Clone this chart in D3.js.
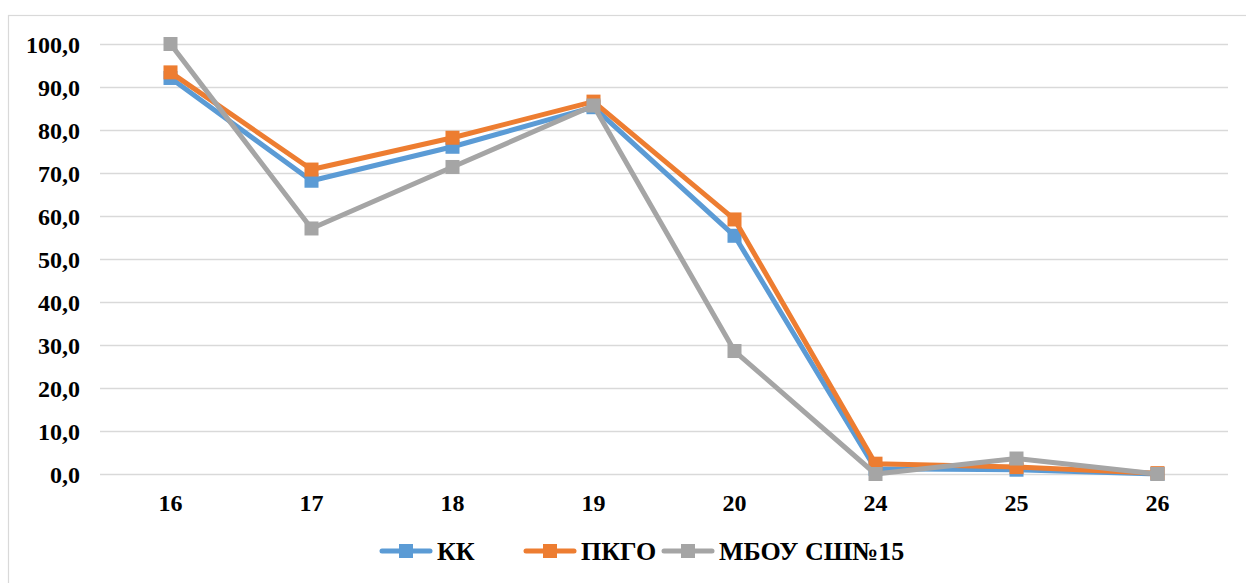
<!DOCTYPE html>
<html><head><meta charset="utf-8">
<script src="https://cdn.jsdelivr.net/npm/d3@7"></script>
<style>body{margin:0;background:#fff;}svg{display:block;}
svg text{font-family:"Liberation Serif","Times New Roman",serif !important;font-weight:bold;fill:#000;}
</style>
</head><body>
<svg id="c" width="1246" height="583"></svg>
<script>
const categories = ["16","17","18","19","20","24","25","26"];
const seriesNames = ["КК","ПКГО","МБОУ СШ№15"];
const kk   = [92.1, 68.2, 76.1, 85.3, 55.4, 1.2, 1.0, 0.0];
const pkgo = [93.4, 70.8, 78.2, 86.6, 59.2, 2.4, 1.6, 0.2];
const mbou = [100.0, 57.1, 71.4, 85.7, 28.6, 0.0, 3.6, 0.0];
const yTicks = [0,10,20,30,40,50,60,70,80,90,100];
const colors = ["#5B9BD5","#ED7D31","#A5A5A5"];

const svg = d3.select("#c");
svg.append("rect").attr("x",8.5).attr("y",15.5).attr("width",1260).attr("height",600)
  .attr("fill","#fff").attr("stroke","#d9d9d9").attr("stroke-width",1.2);

const x = d3.scaleBand().domain(categories).range([100,1228]);
const y = d3.scaleLinear().domain([0,100]).range([474,44]);

const yAxis = svg.append("g").attr("transform","translate(100,0)")
  .call(d3.axisLeft(y).tickValues(yTicks).tickSize(-1128).tickFormat(d=>d3.format(".1f")(d).replace(".",",")));
yAxis.select(".domain").remove();
yAxis.selectAll(".tick line").attr("stroke","#d9d9d9").attr("stroke-width",1.5);
yAxis.selectAll(".tick text").attr("x",-20).attr("dy","0.35em").style("font-size","24px");

const xAxis = svg.append("g").attr("transform","translate(0,474)")
  .call(d3.axisBottom(x).tickSize(0).tickPadding(20));
xAxis.select(".domain").remove();
xAxis.selectAll(".tick text").style("font-size","24px");

const data = [kk,pkgo,mbou];
const line = d3.line().x((d,i)=>x(categories[i])+x.bandwidth()/2).y(d=>y(d));
data.forEach((s,k)=>{
  svg.append("path").datum(s).attr("d",line).attr("fill","none")
    .attr("stroke",colors[k]).attr("stroke-width",5).attr("stroke-linejoin","round");
  svg.selectAll(null).data(s).enter().append("rect")
    .attr("x",(d,i)=>x(categories[i])+x.bandwidth()/2-7)
    .attr("y",d=>y(d)-7).attr("width",14).attr("height",14).attr("fill",colors[k]);
});

// legend
const legendX = [382, 526, 664];
seriesNames.forEach((n,k)=>{
  const g = svg.append("g").attr("transform",`translate(${legendX[k]},551)`);
  g.append("line").attr("x1",0).attr("x2",48).attr("y1",0).attr("y2",0)
    .attr("stroke",colors[k]).attr("stroke-width",5).attr("stroke-linecap","round");
  g.append("rect").attr("x",17).attr("y",-7).attr("width",14).attr("height",14).attr("fill",colors[k]);
  g.append("text").attr("x",55).attr("y",9).style("font-size","26px").text(n);
});
</script>
</body></html>
